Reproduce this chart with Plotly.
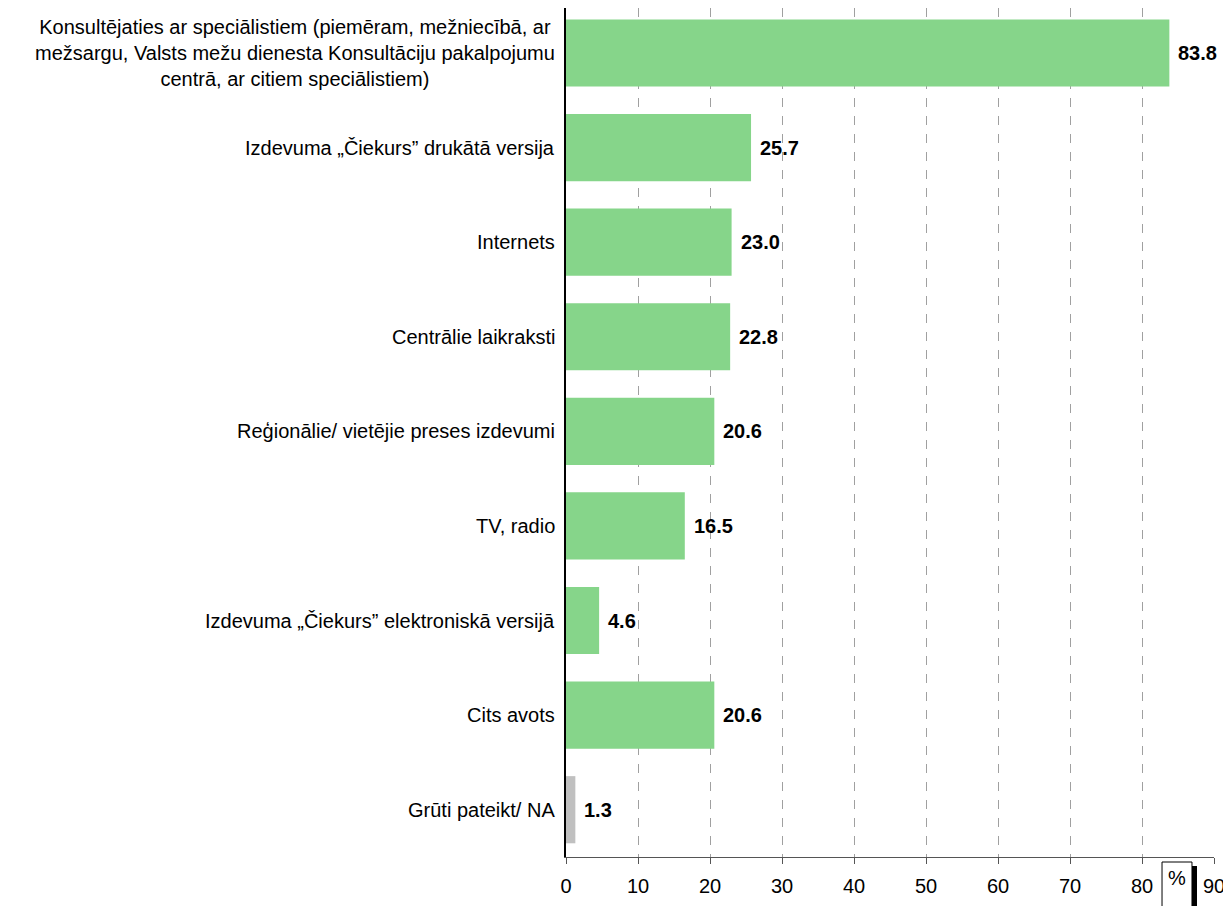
import plotly.graph_objects as go

categories = [
    "Konsultējaties ar speciālistiem (piemēram, mežniecībā, ar<br>mežsargu, Valsts mežu dienesta Konsultāciju pakalpojumu<br>centrā, ar citiem speciālistiem)",
    "Izdevuma „Čiekurs” drukātā versija",
    "Internets",
    "Centrālie laikraksti",
    "Reģionālie/ vietējie preses izdevumi",
    "TV, radio",
    "Izdevuma „Čiekurs” elektroniskā versijā",
    "Cits avots",
    "Grūti pateikt/ NA",
]
values = [83.8, 25.7, 23.0, 22.8, 20.6, 16.5, 4.6, 20.6, 1.3]
value_labels = ["83.8", "25.7", "23.0", "22.8", "20.6", "16.5", "4.6", "20.6", "1.3"]
colors = ["#86D58A"] * 8 + ["#C0C0C0"]
x_ticks = [0, 10, 20, 30, 40, 50, 60, 70, 80, 90]

FONT = "Liberation Sans, Arial, sans-serif"
FS = 20

fig = go.Figure()
fig.add_trace(go.Bar(
    y=list(range(len(categories))), x=values, orientation="h",
    marker=dict(color=colors, line=dict(width=0)),
    width=0.71, hoverinfo="skip",
))

annotations = []
for i, (c, v, t) in enumerate(zip(categories, values, value_labels)):
    annotations.append(dict(x=v, y=i, xref="x", yref="y", text="<b>" + t + "</b>",
                            showarrow=False, xanchor="left", xshift=7,
                            font=dict(family=FONT, size=FS, color="black")))
    annotations.append(dict(x=0, y=i, xref="paper", yref="y", text=c,
                            showarrow=False, xanchor="right", align="center", xshift=-9,
                            font=dict(family=FONT, size=FS, color="black")))

# "%" label near the axis
annotations.append(dict(x=84.86, y=-0.025, xref="x", yref="paper", text="%",
                        showarrow=False, xanchor="center", yanchor="middle",
                        font=dict(family=FONT, size=FS, color="black")))

fig.update_layout(
    width=1223, height=898,
    margin=dict(l=558, r=17, t=0, b=49),
    plot_bgcolor="white", paper_bgcolor="white",
    showlegend=False,
    annotations=annotations,
    font=dict(family=FONT, size=FS, color="black"),
    xaxis=dict(
        range=[0, 90], tickvals=x_ticks, ticktext=[str(t) for t in x_ticks],
        showgrid=True, gridcolor="#A0A0A0", griddash="dash", gridwidth=1,
        showline=True, linecolor="#555555", linewidth=1,
        ticks="outside", ticklen=6, tickcolor="#555555",
        ticklabelstandoff=5,
        tickfont=dict(family=FONT, size=FS, color="black"),
        zeroline=False,
    ),
    yaxis=dict(
        range=[8.5, -0.476], showticklabels=False,
        showline=True, linecolor="black", linewidth=1.5,
        showgrid=False, zeroline=False, ticks="",
    ),
)

# box around the "%" label (open at the bottom edge)
fig.add_shape(type="rect", xref="x", yref="paper", x0=82.78, x1=86.94, y0=-0.0059, y1=-0.08,
              fillcolor="white", line=dict(color="black", width=1), layer="above")
# black shadow bar on the right of the box
fig.add_shape(type="rect", xref="x", yref="paper", x0=86.94, x1=87.64, y0=-0.0106, y1=-0.08,
              fillcolor="black", line=dict(width=0), layer="above")

fig.write_html("out.html")
